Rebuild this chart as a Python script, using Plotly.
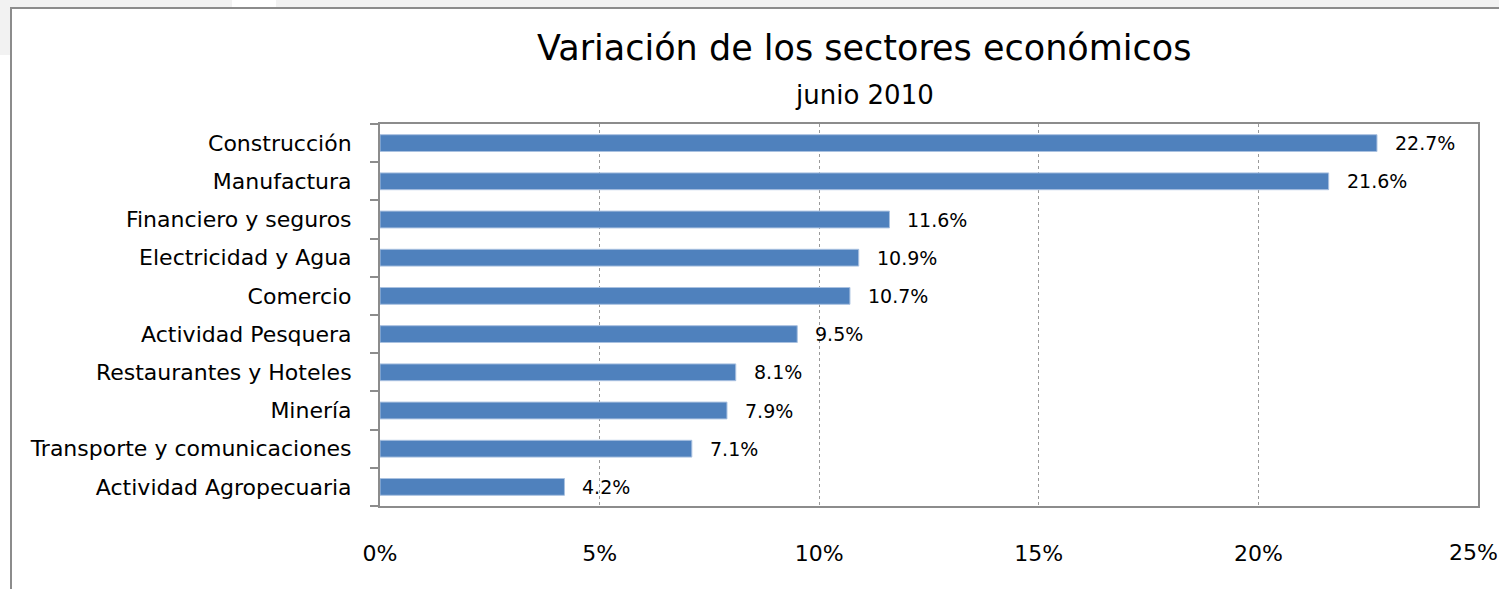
import plotly.graph_objects as go

sectores = ["Actividad Agropecuaria", "Transporte y comunicaciones", "Minería",
            "Restaurantes y Hoteles", "Actividad Pesquera", "Comercio",
            "Electricidad y Agua", "Financiero y seguros", "Manufactura", "Construcción"]
variacion = [0.042, 0.071, 0.079, 0.081, 0.095, 0.107, 0.109, 0.116, 0.216, 0.227]
etiquetas = ["4.2%", "7.1%", "7.9%", "8.1%", "9.5%", "10.7%", "10.9%", "11.6%", "21.6%", "22.7%"]
tick_vals = [0, 0.05, 0.10, 0.15, 0.20, 0.25]
tick_text = ["0%", "5%", "10%", "15%", "20%", "25%"]

FONT = "DejaVu Sans"
W, H = 1499, 589
L, R, T, B = 380, 21, 124, 83
pw, ph = W - L - R, H - T - B

def px(x):
    return (x - L) / pw

def py(y):
    return (H - B - y) / ph

fig = go.Figure()
fig.add_trace(go.Bar(
    x=variacion, y=sectores, orientation="h",
    marker=dict(color="#4F81BD", line=dict(color="#A9C1E0", width=1)),
    hoverinfo="skip",
))

for v, s, t in zip(variacion, sectores, etiquetas):
    fig.add_annotation(x=v, y=s, text=t, showarrow=False, xanchor="left",
                       xshift=16, font=dict(family=FONT, size=19, color="black"))

# last x tick label (sits at the page edge)
fig.add_annotation(x=tick_vals[-1], y=py(552), xref="x", yref="paper", text=tick_text[-1],
                   showarrow=False, xanchor="center", yanchor="middle", xshift=-5,
                   font=dict(family=FONT, size=22, color="black"))

# titles
fig.add_annotation(x=px(864), y=py(48), xref="paper", yref="paper", text="Variación de los sectores económicos",
                   showarrow=False, yanchor="middle", font=dict(family=FONT, size=35, color="black"))
fig.add_annotation(x=px(864), y=py(95), xref="paper", yref="paper", text="junio 2010",
                   showarrow=False, yanchor="middle", font=dict(family=FONT, size=26, color="black"))

shapes = [
    dict(type="rect", xref="paper", yref="paper", x0=px(0), x1=px(W + 5), y0=py(8), y1=py(-5),
         fillcolor="#F2F2F2", line=dict(width=0), layer="below"),
    dict(type="rect", xref="paper", yref="paper", x0=px(232), x1=px(276), y0=py(8), y1=py(-5),
         fillcolor="white", line=dict(width=0), layer="below"),
    dict(type="rect", xref="paper", yref="paper", x0=px(-5), x1=px(11), y0=py(55), y1=py(-5),
         fillcolor="#F2F2F2", line=dict(width=0), layer="below"),
    dict(type="rect", xref="paper", yref="paper", x0=px(11), x1=px(W + 10), y0=py(H + 10), y1=py(8),
         line=dict(color="#8C8C8C", width=2), fillcolor="rgba(0,0,0,0)", layer="below"),
]

fig.update_layout(
    width=W, height=H,
    margin=dict(l=L, r=R, t=T, b=B),
    paper_bgcolor="white", plot_bgcolor="white",
    showlegend=False, bargap=0.56,
    shapes=shapes,
    xaxis=dict(range=[0, 0.25], tickvals=tick_vals[:-1], ticktext=tick_text[:-1],
               showgrid=True, gridcolor="#9A9A9A", griddash="dot", gridwidth=1,
               zeroline=False, showline=True, mirror=True, linecolor="#8C8C8C", linewidth=2,
               ticks="outside", ticklen=27, tickcolor="rgba(0,0,0,0)",
               tickfont=dict(family=FONT, size=22, color="black"), fixedrange=True),
    yaxis=dict(categoryorder="array", categoryarray=sectores,
               showline=True, mirror=True, linecolor="#8C8C8C", linewidth=2,
               ticks="outside", tickson="boundaries", ticklen=8, tickcolor="#8C8C8C", tickwidth=2,
               ticklabelstandoff=22,
               tickfont=dict(family=FONT, size=22, color="black"), showgrid=False, fixedrange=True),
)

fig.write_html("out.html", config={"displayModeBar": False},
               post_script="document.body.style.margin='0';document.body.style.overflow='hidden';"
                           "document.documentElement.style.overflow='hidden';")
